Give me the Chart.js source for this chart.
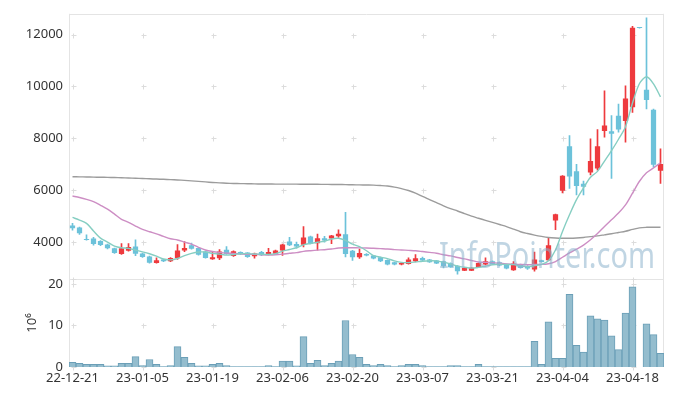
<!DOCTYPE html>
<html>
<head>
<meta charset="utf-8">
<script src="https://cdn.jsdelivr.net/npm/chart.js@4.4.1/dist/chart.umd.min.js"></script>
<style>
  body { margin: 0; background: #fff; }
  #wrap { width: 673px; height: 396px; }
</style>
</head>
<body>
<div id="wrap"><canvas id="stockChart" width="673" height="396"></canvas></div>
<script>
const dates = [
  '22-12-21','22-12-22','22-12-23','22-12-26','22-12-27','22-12-28','22-12-29','23-01-02','23-01-03','23-01-04',
  '23-01-05','23-01-06','23-01-09','23-01-10','23-01-11','23-01-12','23-01-13','23-01-16','23-01-17','23-01-18',
  '23-01-19','23-01-20','23-01-25','23-01-26','23-01-27','23-01-30','23-01-31','23-02-01','23-02-02','23-02-03',
  '23-02-06','23-02-07','23-02-08','23-02-09','23-02-10','23-02-13','23-02-14','23-02-15','23-02-16','23-02-17',
  '23-02-20','23-02-21','23-02-22','23-02-23','23-02-24','23-02-27','23-02-28','23-03-02','23-03-03','23-03-06',
  '23-03-07','23-03-08','23-03-09','23-03-10','23-03-13','23-03-14','23-03-15','23-03-16','23-03-17','23-03-20',
  '23-03-21','23-03-22','23-03-23','23-03-24','23-03-27','23-03-28','23-03-29','23-03-30','23-03-31','23-04-03',
  '23-04-04','23-04-05','23-04-06','23-04-07','23-04-10','23-04-11','23-04-12','23-04-13','23-04-14','23-04-17',
  '23-04-18','23-04-19','23-04-20','23-04-21','23-04-24'
];

const openPrice = [
  4640, 4565, 4115, 4140, 4045, 3910, 3760, 3540, 3665, 3835,
  3565, 3450, 3195, 3325, 3260, 3375, 3680, 3875, 3770, 3635,
  3340, 3375, 3710, 3465, 3615, 3595, 3455, 3615, 3520, 3555,
  3680, 4025, 3925, 3900, 4220, 3960, 4150, 4140, 4230, 4305,
  3670, 3415, 3540, 3480, 3415, 3310, 3225, 3135, 3160, 3260,
  3390, 3325, 3290, 3260, 3185, 3090, 2900, 2900, 3045, 3135,
  3260, 3225, 3135, 2915, 3135, 3070, 2945, 3300, 3300, 4830,
  5980, 7690, 6735, 6245, 6680, 6835, 8285, 8275, 8875, 8670,
  9195, 12250, 9870, 9105, 6755
];
const highPrice = [
  4725, 4580, 4285, 4180, 4060, 3920, 3770, 3940, 3940, 4090,
  3580, 3460, 3390, 3340, 3400, 3900, 4025, 3960, 3780, 3650,
  3640, 3710, 3830, 3660, 3630, 3600, 3580, 3640, 3760, 3690,
  3920, 4180, 4000, 4600, 4230, 4305, 4220, 4265, 4475, 5150,
  3680, 3735, 3560, 3490, 3420, 3320, 3230, 3210, 3390, 3520,
  3420, 3340, 3300, 3270, 3200, 3100, 3010, 3015, 3205, 3390,
  3275, 3235, 3150, 3250, 3150, 3100, 3615, 3310, 4180, 5085,
  6560, 8110, 7000, 6350, 7980, 8340, 9835, 8875, 9320, 10025,
  12320, 12250, 12640, 9130, 7600
];
const lowPrice = [
  4460, 4295, 4075, 3885, 3860, 3740, 3560, 3530, 3650, 3475,
  3410, 3190, 3190, 3250, 3250, 3330, 3635, 3730, 3500, 3380,
  3330, 3325, 3530, 3450, 3520, 3410, 3380, 3480, 3510, 3545,
  3490, 3860, 3770, 3810, 3930, 3690, 4000, 3940, 4180, 3430,
  3290, 3370, 3470, 3355, 3250, 3120, 3120, 3125, 3150, 3250,
  3280, 3215, 3165, 3005, 3020, 2760, 2895, 2895, 3035, 3125,
  3150, 3085, 2970, 2905, 2995, 2945, 2880, 3225, 3280, 4475,
  5900, 6070, 5815, 5815, 6590, 6770, 8045, 6450, 8240, 7855,
  9000, 12250, 9130, 6900, 6260
];
const closePrice = [
  4535, 4345, 4080, 3930, 3885, 3760, 3580, 3760, 3815, 3550,
  3425, 3205, 3300, 3260, 3390, 3680, 3770, 3740, 3510, 3390,
  3415, 3635, 3540, 3645, 3530, 3425, 3565, 3490, 3615, 3680,
  3910, 3875, 3835, 4180, 3940, 4150, 4065, 4255, 4320, 3540,
  3415, 3580, 3480, 3365, 3260, 3135, 3135, 3195, 3325, 3375,
  3290, 3225, 3175, 3070, 3030, 2880, 3005, 3010, 3195, 3260,
  3160, 3095, 2980, 3175, 3005, 2985, 3325, 3235, 3875, 5070,
  6555, 6525, 6160, 6130, 7125, 7690, 8495, 8175, 8340, 9540,
  12260, 12250, 9475, 6985, 7015
];

// moving averages
const ma5 = [
  4950, 4850, 4720, 4430, 4155, 4000, 3847, 3783, 3760, 3693,
  3626, 3551, 3459, 3348, 3316, 3367, 3480, 3568, 3618, 3618,
  3565, 3538, 3498, 3525, 3553, 3555, 3541, 3531, 3525, 3555,
  3652, 3714, 3783, 3896, 3948, 3996, 4034, 4118, 4146, 4066,
  3919, 3822, 3667, 3476, 3420, 3364, 3275, 3218, 3210, 3233,
  3264, 3282, 3278, 3227, 3158, 3076, 3032, 2999, 3024, 3070,
  3126, 3144, 3138, 3134, 3083, 3048, 3094, 3145, 3285, 3698,
  4412, 5052, 5637, 6088, 6499, 6726, 7120, 7523, 7965, 8448,
  9362, 10113, 10373, 10102, 9597
];
const ma20 = [
  5776, 5720, 5650, 5560, 5420, 5270, 5080, 4880, 4760, 4620,
  4490, 4400, 4320, 4220, 4130, 4080, 4000, 3920, 3800, 3696,
  3640, 3604, 3577, 3563, 3545, 3528, 3528, 3514, 3504, 3511,
  3535, 3568, 3595, 3641, 3669, 3692, 3707, 3733, 3773, 3781,
  3781, 3778, 3775, 3761, 3747, 3733, 3711, 3697, 3682, 3667,
  3636, 3603, 3570, 3515, 3469, 3406, 3353, 3291, 3234, 3220,
  3208, 3183, 3158, 3149, 3136, 3129, 3138, 3140, 3168, 3252,
  3416, 3581, 3730, 3883, 4088, 4328, 4603, 4861, 5118, 5432,
  5887, 6345, 6670, 6860, 7061
];
const ma120 = [
  6520, 6515, 6510, 6505, 6500, 6495, 6490, 6480, 6470, 6460,
  6450, 6440, 6430, 6420, 6410, 6395, 6380, 6360, 6340, 6320,
  6300, 6285, 6270, 6260, 6255, 6250, 6245, 6240, 6238, 6236,
  6235, 6234, 6233, 6232, 6230, 6228, 6225, 6222, 6220, 6215,
  6210, 6205, 6200, 6195, 6180, 6160, 6120, 6060, 5990, 5890,
  5760, 5640, 5520, 5400, 5290, 5200, 5100, 5000, 4920, 4840,
  4760, 4680, 4600, 4500, 4400, 4330, 4270, 4220, 4180, 4160,
  4150, 4150, 4160, 4180, 4210, 4240, 4280, 4320, 4370, 4420,
  4490, 4550, 4570, 4575, 4575
];

// volume in millions of shares
const volume = [
  1.1, 0.9, 0.65, 0.65, 0.65, 0.3, 0.3, 0.9, 0.9, 2.5,
  0.35, 1.8, 0.65, 0.1, 0.35, 4.9, 2.3, 0.9, 0.3, 0.3,
  0.65, 0.9, 0.35, 0.1, 0.1, 0.1, 0.1, 0.1, 0.35, 0.1,
  1.4, 1.4, 0.3, 7.3, 0.9, 1.6, 0.35, 0.9, 1.4, 11.2,
  3.0, 2.3, 0.65, 0.35, 0.65, 0.35, 0.1, 0.35, 0.65, 0.65,
  0.35, 0.1, 0.1, 0.1, 0.35, 0.35, 0.1, 0.1, 0.65, 0.1,
  0.1, 0.1, 0.1, 0.1, 0.1, 0.1, 6.2, 0.65, 10.9, 2.1,
  2.1, 17.5, 5.2, 3.6, 12.3, 11.6, 11.3, 7.5, 4.2, 13.0,
  19.3, 0, 10.4, 7.8, 3.3
];

const priceTicks = [4000, 6000, 8000, 10000, 12000];
const volumeTicks = [0, 10, 20];

const upColor = '#ee3a3e';
const downColor = '#6cc2da';
const candleColors = closePrice.map((c, i) => c > openPrice[i] ? upColor : downColor);

// frame lines, the little "+" grid marks and the watermark
const framePlugin = {
    id: 'frame',
    beforeDatasetsDraw(chart) {
        const ctx = chart.ctx;
        const x = chart.scales.x, y = chart.scales.y, yv = chart.scales.yv;
        ctx.save();
        ctx.strokeStyle = '#e4e4e4';
        ctx.lineWidth = 1;
        ctx.beginPath();
        ctx.moveTo(x.left, Math.round(y.top) + 0.5);
        ctx.lineTo(x.right, Math.round(y.top) + 0.5);
        ctx.moveTo(x.left, Math.round(y.bottom) + 0.5);
        ctx.lineTo(x.right, Math.round(y.bottom) + 0.5);
        ctx.moveTo(Math.round(x.left) + 0.5, y.top);
        ctx.lineTo(Math.round(x.left) + 0.5, yv.bottom);
        ctx.moveTo(Math.round(x.right) - 0.5, y.top);
        ctx.lineTo(Math.round(x.right) - 0.5, yv.bottom);
        ctx.stroke();

        ctx.strokeStyle = '#dcdcdc';
        const rows = priceTicks.map(v => y.getPixelForValue(v))
            .concat([y.bottom])
            .concat(volumeTicks.map(v => yv.getPixelForValue(v)));
        ctx.beginPath();
        dates.forEach((d, i) => {
            if (i % 10 !== 0) return;
            const px = Math.round(x.getPixelForValue(i)) + 0.5;
            rows.forEach(r => {
                const py = Math.round(r) + 0.5;
                ctx.moveTo(px - 2, py);
                ctx.lineTo(px + 3, py);
                ctx.moveTo(px, py - 2);
                ctx.lineTo(px, py + 3);
            });
        });
        ctx.stroke();
        ctx.restore();
    },
    afterDatasetsDraw(chart) {
        const ctx = chart.ctx;
        const text = 'InfoPointer.com';
        ctx.save();
        ctx.font = '36px "Noto Sans"';
        const w = ctx.measureText(text).width;
        ctx.translate(439, 268);
        ctx.scale(216 / w, 1);
        ctx.fillStyle = 'rgba(140, 178, 204, 0.55)';
        ctx.fillText(text, 0, 0);
        ctx.restore();
    }
};

const tickFont = { family: '"Noto Sans", sans-serif', size: 13 };

new Chart(document.getElementById('stockChart'), {
    type: 'bar',
    data: {
        labels: dates,
        datasets: [
            {
                type: 'line', data: ma5, yAxisID: 'y', borderColor: '#86cec2',
                borderWidth: 1.4, pointRadius: 0, tension: 0.3, order: 0
            },
            {
                type: 'line', data: ma20, yAxisID: 'y', borderColor: '#cd8ec4',
                borderWidth: 1.4, pointRadius: 0, tension: 0.3, order: 0
            },
            {
                type: 'line', data: ma120, yAxisID: 'y', borderColor: '#9c9c9c',
                borderWidth: 1.4, pointRadius: 0, tension: 0.3, order: 0
            },
            {
                data: lowPrice.map((l, i) => [l, highPrice[i]]), yAxisID: 'y',
                backgroundColor: candleColors, barThickness: 1, grouped: false, order: 2
            },
            {
                data: openPrice.map((o, i) => [o, closePrice[i]]), yAxisID: 'y',
                backgroundColor: candleColors, barPercentage: 0.75, categoryPercentage: 1,
                minBarLength: 1, grouped: false, order: 1
            },
            {
                data: volume, yAxisID: 'yv', backgroundColor: '#94bdce', borderColor: '#6b9fb7',
                borderWidth: 1, barPercentage: 1, categoryPercentage: 1, grouped: false, order: 3
            }
        ]
    },
    options: {
        responsive: false,
        animation: false,
        devicePixelRatio: 1,
        layout: { padding: { top: 10, right: 9, left: 0, bottom: 0 } },
        plugins: { legend: { display: false }, tooltip: { enabled: false } },
        scales: {
            x: {
                offset: true,
                grid: { display: false, drawTicks: false },
                border: { display: false },
                ticks: {
                    autoSkip: false, maxRotation: 0, padding: 3, color: '#333', font: tickFont,
                    callback: (v, i) => i % 10 === 0 ? dates[i] : ''
                },
                afterFit: s => { s.height = 29; }
            },
            y: {
                position: 'left', stack: 'panes', stackWeight: 268, weight: 2,
                min: 2580, max: 12800,
                grid: { display: false, drawTicks: false },
                border: { display: false },
                ticks: { padding: 6, color: '#333', font: tickFont, callback: v => String(v) },
                afterBuildTicks: s => { s.ticks = priceTicks.map(v => ({ value: v })); },
                afterFit: s => { s.width = 69; }
            },
            yv: {
                position: 'left', stack: 'panes', stackWeight: 89, weight: 1,
                min: 0, max: 21.2,
                grid: { display: false, drawTicks: false },
                border: { display: false },
                title: { display: true, text: '10⁶', color: '#333', font: tickFont, padding: { top: 24, bottom: 0 } },
                ticks: { padding: 6, color: '#333', font: tickFont, callback: v => String(v) },
                afterBuildTicks: s => { s.ticks = volumeTicks.map(v => ({ value: v })); },
                afterFit: s => { s.width = 69; }
            }
        }
    },
    plugins: [framePlugin]
});
</script>
</body>
</html>
